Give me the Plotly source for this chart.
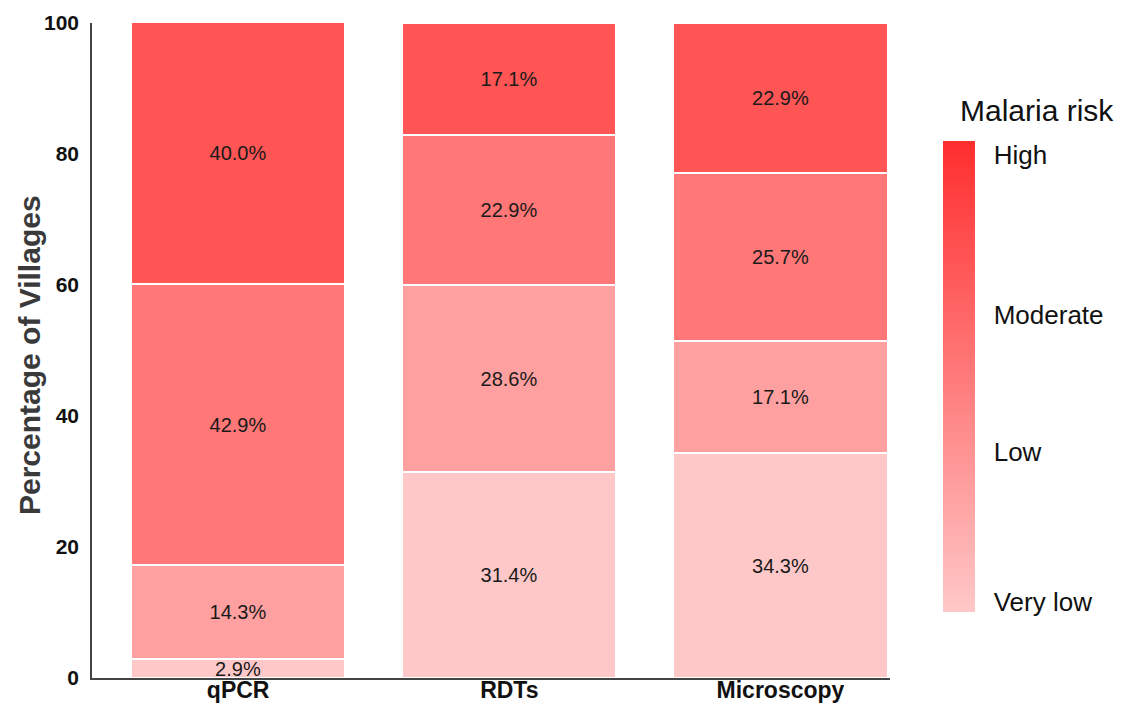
import plotly.graph_objects as go

methods = ["qPCR", "RDTs", "Microscopy"]
risk_levels = ["Very low", "Low", "Moderate", "High"]
very_low = [2.9, 31.4, 34.3]
low = [14.3, 28.6, 17.1]
moderate = [42.9, 22.9, 25.7]
high = [40.0, 17.1, 22.9]
series = [very_low, low, moderate, high]
colors = ["#FFC8C8", "#FFA0A0", "#FF7777", "#FF5555"]
y_ticks = [0, 20, 40, 60, 80, 100]
legend_labels = ["Very low", "Low", "Moderate", "High"]

W, H = 1123, 704
L, R, T, B = 92, 233, 23, 26
PW, PH = W - L - R, H - T - B

fig = go.Figure()
for name, vals, col in zip(risk_levels, series, colors):
    fig.add_trace(go.Bar(
        x=methods, y=vals, name=name,
        marker=dict(color=col, line=dict(color="white", width=2)),
        text=[f"{v:.1f}%" for v in vals],
        textposition="inside", insidetextanchor="middle",
        textfont=dict(family="Liberation Sans, Arial", size=20, color="#1a1a1a"),
        width=0.79, showlegend=False, hoverinfo="skip",
    ))

# dummy trace for the colour bar
cb_top, cb_bot = 141, 612
fig.add_trace(go.Scatter(
    x=[None], y=[None], mode="markers", showlegend=False, hoverinfo="skip",
    marker=dict(
        color=[0.5], cmin=0, cmax=1,
        colorscale=[[0, "#FFC8C8"], [0.5, "#FF7A7A"], [1, "#FF2E2E"]],
        showscale=True,
        colorbar=dict(
            x=(943 - L) / PW, xanchor="left", xpad=0,
            y=(H - B - cb_top) / PH, yanchor="top", ypad=0,
            len=cb_bot - cb_top, lenmode="pixels",
            thickness=32, outlinewidth=0,
            tickmode="array",
            tickvals=[0.021, 0.34, 0.63, 0.97],
            ticktext=legend_labels,
            ticks="outside", ticklen=14, tickcolor="rgba(0,0,0,0)",
            tickfont=dict(family="Liberation Sans, Arial", size=26, color="#111"),
        ),
    ),
))

fig.add_annotation(
    text="Malaria risk", xref="paper", yref="paper",
    x=(958 - L) / PW, y=1 - (110 - T) / PH,
    xanchor="left", yanchor="middle", showarrow=False,
    font=dict(family="Liberation Sans, Arial", size=30, color="#111"),
)
fig.add_annotation(
    text="<b>Percentage of Villages</b>", xref="paper", yref="paper",
    x=(29 - L) / PW, y=1 - (355 - T) / PH, textangle=-90,
    xanchor="center", yanchor="middle", showarrow=False,
    font=dict(family="Liberation Sans, Arial", size=30, color="#3a3a3a"),
)

fig.update_layout(
    barmode="stack",
    width=W, height=H,
    margin=dict(l=L, r=R, t=T, b=B, autoexpand=False),
    plot_bgcolor="white", paper_bgcolor="white",
    bargap=0,
    uniformtext=dict(minsize=20, mode="show"),
    font=dict(family="Liberation Sans, Arial"),
)
fig.update_xaxes(
    range=[-0.539, 2.404], automargin=False,
    showline=True, linecolor="#444", linewidth=1.5,
    showgrid=False, ticks="", ticklabelstandoff=-9,
    tickfont=dict(family="Liberation Sans, Arial", size=23, color="#111", weight="bold"),
)
fig.update_yaxes(
    range=[0, 100], tickvals=y_ticks, automargin=False,
    showline=True, linecolor="#444", linewidth=1.5,
    showgrid=False, zeroline=False,
    ticks="outside", ticklen=7, tickcolor="rgba(0,0,0,0)",
    tickfont=dict(family="Liberation Sans, Arial", size=21, color="#111", weight="bold"),
)

fig.write_html("out.html", config={"displayModeBar": False},
               post_script="document.body.style.margin='0';")
